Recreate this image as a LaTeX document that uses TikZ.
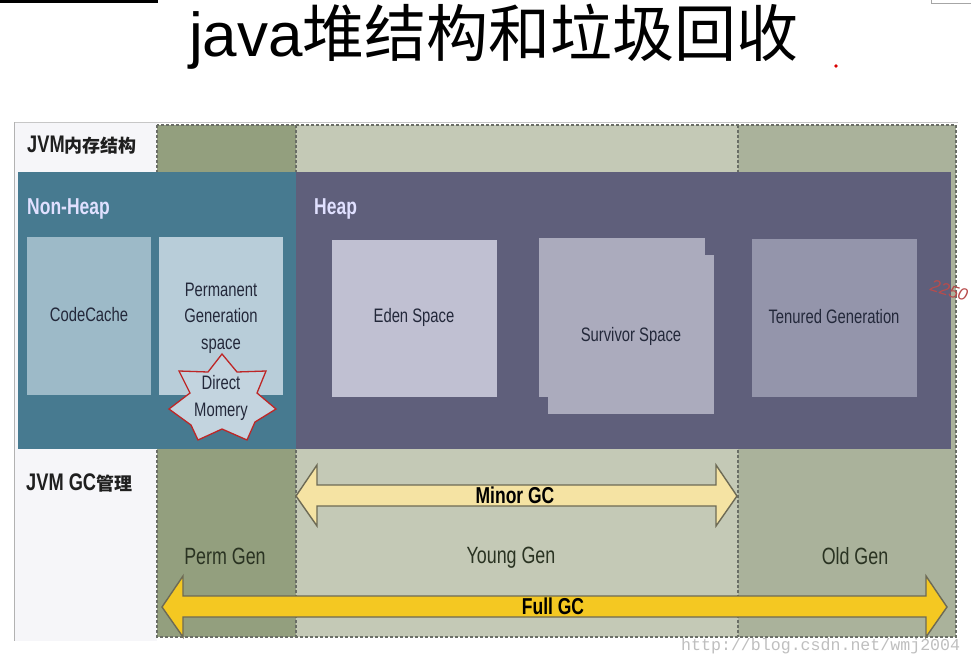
\documentclass[tikz,border=0pt]{standalone}
\usepackage{fontspec}
\setmainfont{Liberation Sans}
\newfontfamily\cjk{Noto Sans CJK SC}
\newfontfamily\lab[FakeStretch=0.76]{Liberation Sans}
\newfontfamily\labb[FakeStretch=0.76,BoldFont={Liberation Sans Bold}]{Liberation Sans}
\newfontfamily\wm{Liberation Mono}
\newcommand{\fs}[1]{\fontsize{#1}{26.5}\selectfont}
\definecolor{panelc}{HTML}{F6F6F9}
\definecolor{permc}{HTML}{939F7E}
\definecolor{youngc}{HTML}{C4C9B6}
\definecolor{oldc}{HTML}{AAB29B}
\definecolor{nonheapc}{HTML}{477A90}
\definecolor{heapc}{HTML}{5F5F7B}
\definecolor{codec}{HTML}{9DBAC8}
\definecolor{permbox}{HTML}{B8CDD9}
\definecolor{edenc}{HTML}{C0C0D2}
\definecolor{survc}{HTML}{ABABBD}
\definecolor{tenc}{HTML}{9495AB}
\definecolor{minorc}{HTML}{F5E3A3}
\definecolor{fullc}{HTML}{F4C822}
\definecolor{ink}{HTML}{23283A}
\definecolor{genink}{HTML}{2A3322}
\definecolor{dashc}{HTML}{6A6E66}
\definecolor{arrowline}{HTML}{6D6A55}
\tikzset{
  x=1pt,y=-1pt,
  zone/.style={draw=dashc,dash pattern=on 3pt off 2pt,line width=1.2pt},
  gcarrow/.style={draw=arrowline,line width=1.4pt,line join=miter},
  lbl/.style={inner sep=0pt,align=center,text=ink,font=\lab\fs{19.5}},
  genlbl/.style={inner sep=0pt,text=genink,font=\lab\fs{23.5}},
  arrowlbl/.style={inner sep=0pt,text=black,font=\labb\bfseries\fs{23}},
  headlbl/.style={inner sep=0pt,anchor=west,text=white!88!blue,font=\labb\bfseries\fs{23}},
  sidelbl/.style={inner sep=0pt,anchor=west,text=black!88},
}
\begin{document}
\begin{tikzpicture}
\useasboundingbox (0,0) rectangle (971,665);
\clip (0,0) rectangle (971,665);
\fill[white] (0,0) rectangle (971,665);
% corner remnants
\fill[black] (0,0) rectangle (158,3);
\draw[black!35,line width=1pt,fill=white] (931,-2) rectangle (975,3.5);
% title
\node[inner sep=0pt,anchor=west] (title) at (189,37) {\fontsize{62}{70}\selectfont java\cjk 堆结构和垃圾回收};
\fill[red!85!black] (836,66) circle (1.8);
% panel
\draw[black!22,line width=1pt] (14,122.5) -- (958,122.5);
\fill[panelc] (14,123) rectangle (157,641);
\draw[black!30,line width=1pt] (14,122) -- (14,641);
% generation zones
\fill[permc] (157,125) rectangle (296,637);
\fill[youngc] (296,125) rectangle (738,637);
\fill[oldc] (738,125) rectangle (956,637);
\draw[zone] (157,125) rectangle (956,637);
\draw[zone] (296,125) -- (296,637);
\draw[zone,line width=2.4pt] (738,125) -- (738,637);
% bands
\fill[nonheapc] (18,172) rectangle (296,449);
\fill[heapc] (296,172) rectangle (951,449);
% boxes
\fill[codec] (27,237) rectangle (151,395);
\node[lbl] (code) at (89,315) {CodeCache};
\fill[permbox] (159,237) rectangle (283,395);
\node[lbl] (perm) at (221,318) {Permanent\\Generation\\space};
\fill[edenc] (332,240) rectangle (497,397);
\node[lbl] (eden) at (414,317) {Eden Space};
\fill[survc] (539,238) rectangle (705,397);
\fill[survc] (548,255) rectangle (714,414);
\node[lbl] (surv) at (631,336) {Survivor Space};
\fill[tenc] (752,239) rectangle (917,397);
\node[lbl] (ten) at (834,317) {Tenured Generation};
% star
\draw[draw=red!70!black!85,fill=permbox!85!white,line width=1.3pt,line join=miter]
  (222,354) -- (237,372) -- (266,371) -- (257,393) -- (276,409) -- (255,422) -- (247,440)
  -- (222,429) -- (198,440) -- (191,425) -- (169,409) -- (190,393) -- (179,371) -- (208,372) -- cycle;
\node[lbl] (direct) at (221,398) {Direct\\Momery};
% headings
\node[headlbl] (nonheap) at (27,209) {Non-Heap};
\node[headlbl] (heap) at (314,209) {Heap};
\node[sidelbl] (mem) at (27,145) {\labb\bfseries\fs{24}JVM\cjk\bfseries\fs{18}内存结构};
\node[sidelbl] (gc) at (26,483) {\labb\bfseries\fs{24}JVM GC\cjk\bfseries\fs{18}管理};
% GC arrows
\draw[gcarrow,fill=minorc] (296,496) -- (317,465) -- (317,485) -- (716,485) -- (716,465) -- (737,496) -- (716,526) -- (716,506) -- (317,506) -- (317,526) -- cycle;
\node[arrowlbl] (minor) at (515,495) {Minor GC};
\draw[gcarrow,fill=fullc] (162,607) -- (183,576) -- (183,596) -- (926,596) -- (926,576) -- (947,607) -- (926,637) -- (926,617) -- (183,617) -- (183,637) -- cycle;
\node[arrowlbl] (full) at (553,606) {Full GC};
% generation labels
\node[genlbl] (permgen) at (225,556) {Perm Gen};
\node[genlbl] (younggen) at (511,558) {Young Gen};
\node[genlbl] (oldgen) at (855,556) {Old Gen};
% annotations
\node[inner sep=0pt,anchor=west,rotate=-17,text=red!60!black!70,font=\fs{17}] (num) at (931,285) {\itshape 2250};
\node[inner sep=0pt,anchor=west,text=black!25,font=\wm\fs{16.6}] (mark) at (681,646) {http://blog.csdn.net/wmj2004};
\end{tikzpicture}
\end{document}
